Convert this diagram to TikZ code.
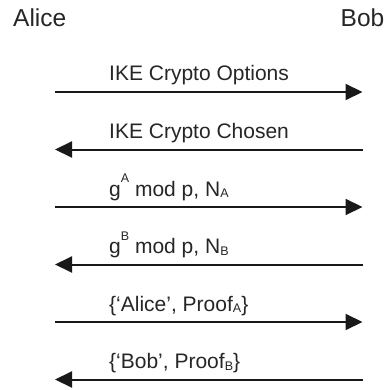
\documentclass[tikz,border=0pt]{standalone}
\usepackage{fontspec}
\setmainfont{Liberation Sans}
\usetikzlibrary{arrows.meta}
\newcommand{\subA}[1]{\raisebox{-0.09em}{\fontsize{12.5pt}{12.5pt}\selectfont #1}}
\newcommand{\supA}[1]{\raisebox{0.64em}{\fontsize{12.5pt}{12.5pt}\selectfont #1}}
\begin{document}
\begin{tikzpicture}[x=1pt,y=-1pt,
  party/.style={anchor=base west,inner sep=0pt,font=\fontsize{24.5pt}{28pt}\selectfont,text=black!85},
  msg/.style={anchor=base west,inner sep=0pt,font=\fontsize{21pt}{24pt}\selectfont,text=black!85},
  flow/.style={line width=2pt,black!90,-{Triangle[length=17pt,width=16pt]}}]
\useasboundingbox (0,0) rectangle (388,390);
\node[party] (alice) at (13,26.7) {Alice};
\node[party] (bob) at (340.5,26.7) {Bob};
% endpoints
\foreach \i/\y in {1/92,2/149.5,3/207,4/264.5,5/322,6/379.5}{
  \coordinate (L\i) at (55,\y);
  \coordinate (R\i) at (362.5,\y);
}
\node[msg] (m1) at (109,81) {IKE Crypto Options};
\node[msg] (m2) at (109,138.5) {IKE Crypto Chosen};
\node[msg] (m3) at (109,196) {g\supA{A} mod p, N\subA{A}};
\node[msg] (m4) at (109,253.5) {g\supA{B} mod p, N\subA{B}};
\node[msg] (m5) at (109,311) {\{‘Alice’, Proof\subA{A}\}};
\node[msg] (m6) at (109,368.5) {\{‘Bob’, Proof\subA{B}\}};
\draw[flow] (L1) -- (R1);
\draw[flow] (R2) -- (L2);
\draw[flow] (L3) -- (R3);
\draw[flow] (R4) -- (L4);
\draw[flow] (L5) -- (R5);
\draw[flow] (R6) -- (L6);
\end{tikzpicture}
\end{document}
